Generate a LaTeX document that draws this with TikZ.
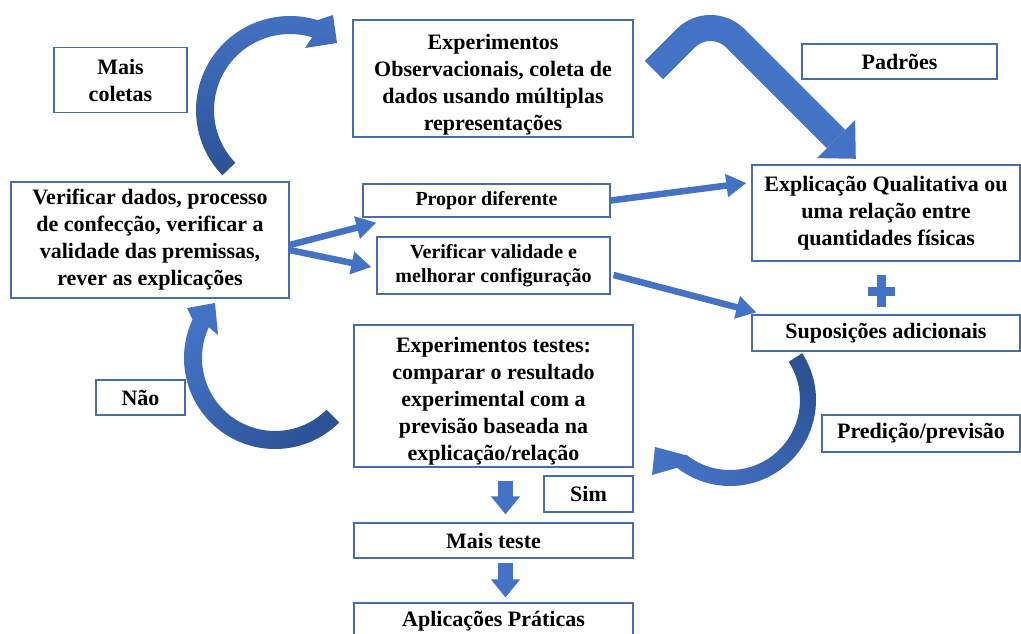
\documentclass[tikz,border=0pt]{standalone}
\usepackage{fontspec}
\setmainfont{Liberation Serif}
\usetikzlibrary{arrows.meta,calc}
\definecolor{arrowblue}{RGB}{68,114,196}
\definecolor{arrowdark}{RGB}{44,82,148}
\definecolor{boxline}{RGB}{72,108,168}
\begin{document}
\begin{tikzpicture}[x=1pt,y=-1pt,
  box/.style={draw=boxline, line width=1.2pt, fill=white, inner sep=0pt, align=center,
    font=\bfseries\fontsize{22}{27}\selectfont},
  sbox/.style={box, font=\bfseries\fontsize{20}{24.5}\selectfont},
  thinarrow/.style={draw=arrowblue, line width=6.5pt, -{Triangle[length=20pt,width=22pt]}},
  blockarrow/.style={draw=arrowblue, line width=15pt, -{Triangle[length=18pt,width=28pt]}},
  bentarrow/.style={draw=arrowblue, line width=26pt, rounded corners=35pt},
  plusfill/.style={fill=arrowblue}
]
\useasboundingbox (0,0) rectangle (1021,633);
\clip (0,0) rectangle (1021,633);

% boxes
\node[box, minimum width=133pt, minimum height=65pt] (mc) at (120.5,80) {Mais\\coletas};
\node[box, minimum width=280pt, minimum height=117pt] (eo) at (493,78.5) {\rule{0pt}{27pt}Experimentos\\Observacionais, coleta de\\dados usando múltiplas\\representações};
\node[box, minimum width=195pt, minimum height=35pt] (pa) at (899.5,61.5) {Padrões};
\node[box, minimum width=278pt, minimum height=116pt] (vd) at (150,240) {Verificar dados, processo\\de confecção, verificar a\\validade das premissas,\\rever as explicações};
\node[sbox, minimum width=247pt, minimum height=33pt] (pd) at (486.5,200.5) {Propor diferente};
\node[sbox, minimum width=233pt, minimum height=57pt] (vv) at (493.5,265.5) {Verificar validade e\\melhorar configuração};
\node[box, minimum width=268pt, minimum height=96pt] (eq) at (886,213) {Explicação Qualitativa ou\\uma relação entre\\quantidades físicas};
\node[box, minimum width=268pt, minimum height=36pt] (sa) at (886,333) {Suposições adicionais};
\node[box, minimum width=279pt, minimum height=142pt] (et) at (493.5,396) {\rule{0pt}{26pt}Experimentos testes:\\comparar o resultado\\experimental com a\\previsão baseada na\\explicação/relação};
\node[box, minimum width=89pt, minimum height=35pt] (na) at (140.5,397.5) {Não};
\node[box, minimum width=198pt, minimum height=37pt] (pp) at (921,433.5) {Predição/previsão};
\node[box, minimum width=89pt, minimum height=36pt] (si) at (588.5,494) {Sim};
\node[box, minimum width=279pt, minimum height=35pt] (mt) at (493.5,540.5) {Mais teste};
\node[box, minimum width=279pt, minimum height=37pt] (ap) at (493.5,621.5) {Aplicações Práticas};

% plus sign
\fill[plusfill] (877,275) rectangle (886,307);
\fill[plusfill] (868,286.5) rectangle (895,295.5);

% straight arrows
\draw[thinarrow] ([yshift=-5pt]vd.east) -- ([xshift=14pt,yshift=-5pt]pd.south west);
\draw[thinarrow] ([yshift=-10pt]vd.east) -- ([xshift=-5pt,yshift=-1.5pt]vv.west);
\draw[thinarrow] (pd.east) -- ([xshift=-5pt,yshift=30pt]eq.west);
\draw[thinarrow] ([xshift=3pt,yshift=-9.5pt]vv.east) -- ([xshift=5pt,yshift=2pt]sa.north west);

% block arrows down
\draw[blockarrow] ([xshift=12pt,yshift=-13pt]et.south) -- ([xshift=12pt,yshift=8pt]mt.north);
\draw[blockarrow] ([xshift=12pt,yshift=-4pt]mt.south) -- ([xshift=12pt,yshift=5pt]ap.north);

% bent arrow to explanation
\coordinate (bt) at (654,70);
\coordinate (bp) at (710.5,13.5);
\coordinate (bh) at (836,139);
\draw[bentarrow] (bt) -- (bp) -- (bh);
\fill[arrowblue] (855.1,119.9) -- (855.8,158.8) -- (816.9,158.1) -- cycle;

% curved arrow: Verificar dados -> Experimentos observacionais
\coordinate (ca) at (290,110);
\shade[top color=arrowblue, bottom color=arrowdark]
  ($(ca)+(136:94)$) arc[start angle=136, end angle=287, radius=94]
  -- (333,15) -- (337,43) -- (305,48)
  -- ($(ca)+(287:76)$) arc[start angle=287, end angle=136, radius=76] -- cycle;

% curved arrow: Suposicoes -> Experimentos testes
\coordinate (cb) at (730,400);
\shade[top color=arrowdark, bottom color=arrowblue, shading angle=-40]
  ($(cb)+(-33:86)$) arc[start angle=-33, end angle=128, radius=86]
  -- (652,475) -- (655,447) -- (685,455)
  -- ($(cb)+(128:70)$) arc[start angle=128, end angle=-33, radius=70] -- cycle;

% curved arrow: Experimentos testes -> Verificar dados
\coordinate (cc) at (275,358);
\shade[top color=arrowblue, bottom color=arrowdark, shading angle=45]
  ($(cc)+(45:91)$) arc[start angle=45, end angle=205, radius=91]
  -- (187,308) -- (215,303) -- (218,335)
  -- ($(cc)+(205:73)$) arc[start angle=205, end angle=45, radius=73] -- cycle;
\end{tikzpicture}
\end{document}
